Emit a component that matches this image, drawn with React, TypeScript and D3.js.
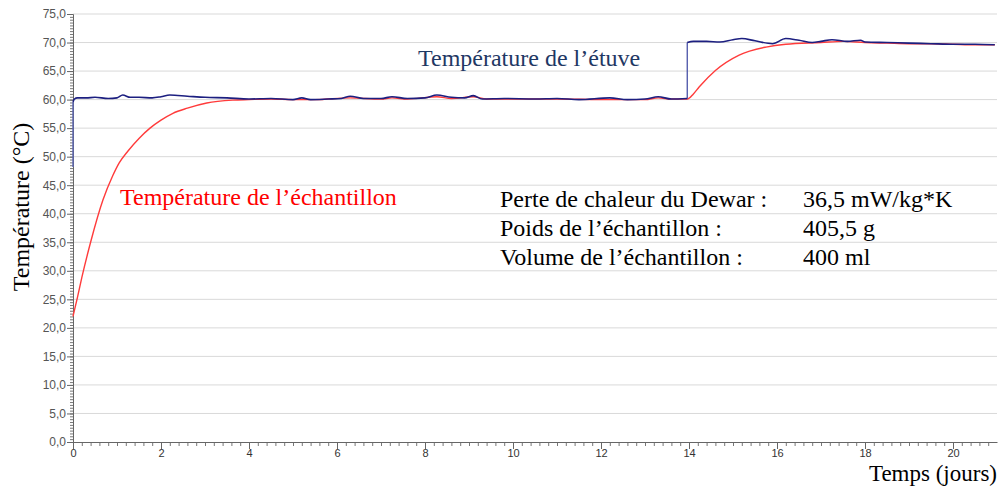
import { useEffect, useRef } from "react";
import * as d3 from "d3";

// Température de l'étuve (jours, °C)
const etuveTime = [0, 0, 0.03, 0.1, 0.3, 0.5, 0.8, 1.0, 1.13, 1.3, 1.5, 1.8, 2.0, 2.2, 2.6, 3.0, 3.5, 4.0, 4.5, 5.0, 5.2, 5.4, 5.8, 6.1, 6.3, 6.6, 7.0, 7.25, 7.6, 8.0, 8.27, 8.6, 8.9, 9.1, 9.3, 9.8, 10.5, 11.0, 11.5, 12.2, 12.6, 13.0, 13.3, 13.6, 13.96, 13.96, 14.1, 14.4, 14.7, 15.0, 15.2, 15.5, 15.9, 16.2, 16.5, 16.8, 17.0, 17.25, 17.6, 17.9, 18.0, 18.5, 19.0, 19.5, 20.0, 20.5, 20.95];
const etuveTemp = [48.2, 59.6, 60.1, 60.3, 60.3, 60.4, 60.2, 60.3, 60.8, 60.4, 60.4, 60.3, 60.5, 60.8, 60.6, 60.4, 60.3, 60.1, 60.2, 60.0, 60.3, 60.0, 60.1, 60.2, 60.6, 60.2, 60.2, 60.5, 60.2, 60.3, 60.8, 60.4, 60.3, 60.7, 60.1, 60.2, 60.1, 60.2, 60.0, 60.3, 60.0, 60.1, 60.5, 60.1, 60.2, 70.0, 70.2, 70.2, 70.1, 70.5, 70.7, 70.3, 69.8, 70.7, 70.4, 70.0, 70.2, 70.5, 70.2, 70.4, 70.1, 70.0, 69.9, 69.8, 69.7, 69.7, 69.6];

// Température de l'échantillon (jours, °C)
const echTime = [0, 0.1, 0.2, 0.4, 0.68, 0.9, 1.05, 1.25, 1.5, 1.75, 2.0, 2.27, 2.6, 3.04, 3.63, 4.0, 4.5, 5.0, 5.5, 6.3, 7.0, 7.25, 7.6, 8.27, 8.6, 9.1, 9.4, 10.0, 11.0, 12.0, 13.0, 13.3, 13.6, 13.96, 14.1, 14.23, 14.6, 15.14, 15.75, 16.2, 17.0, 17.5, 18.0, 18.5, 19.0, 19.5, 20.0, 20.5, 20.95];
const echTemp = [22.0, 25.3, 28.8, 35.0, 42.4, 46.6, 48.9, 51.0, 53.2, 55.0, 56.4, 57.6, 58.5, 59.4, 59.9, 60.0, 60.1, 60.0, 60.0, 60.3, 60.1, 60.3, 60.1, 60.5, 60.2, 60.5, 60.1, 60.1, 60.1, 60.0, 60.0, 60.3, 60.1, 60.1, 61.0, 62.2, 65.1, 67.8, 69.2, 69.7, 70.0, 70.2, 70.0, 69.9, 69.8, 69.8, 69.7, 69.6, 69.6];

const yTicks = [0, 5, 10, 15, 20, 25, 30, 35, 40, 45, 50, 55, 60, 65, 70, 75];
const xTicks = [0, 2, 4, 6, 8, 10, 12, 14, 16, 18, 20];

const infoLabels = ["Perte de chaleur du Dewar :", "Poids de l\u2019\u00e9chantillon :", "Volume de l\u2019\u00e9chantillon :"];
const infoValues = ["36,5 mW/kg*K", "405,5 g", "400 ml"];

const W = 1000;
const H = 486;
const margin = { left: 73, right: 3, top: 14, bottom: 44 };
const serif = "'Liberation Serif', 'Times New Roman', serif";
const sans = "'Liberation Sans', Arial, sans-serif";

export default function App() {
  const svgRef = useRef<SVGSVGElement>(null);

  useEffect(() => {
    if (!svgRef.current) return;
    const svg = d3.select(svgRef.current);
    svg.selectAll("*").remove();

    const x = d3.scaleLinear().domain([0, 21]).range([margin.left, W - margin.right]);
    const y = d3.scaleLinear().domain([0, 75]).range([H - margin.bottom, margin.top]);

    // grid
    svg.append("g")
      .selectAll("line")
      .data(yTicks.filter(d => d > 0))
      .enter()
      .append("line")
      .attr("x1", x(0))
      .attr("x2", x(21))
      .attr("y1", d => y(d))
      .attr("y2", d => y(d))
      .attr("stroke", "#d9d9d9")
      .attr("stroke-width", 1);

    // y axis
    const yAxis = svg.append("g").attr("transform", `translate(${x(0)},0)`);
    yAxis.call(
      d3.axisLeft(y).tickValues(d3.range(0, 75.01, 0.5)).tickSize(3).tickFormat(() => "")
    );
    yAxis.call(g => g.select(".domain").remove());
    yAxis.selectAll("line").attr("stroke", "#777");
    const yMajor = svg.append("g").attr("transform", `translate(${x(0)},0)`);
    yMajor.call(
      d3.axisLeft(y).tickValues(yTicks).tickSize(6).tickFormat(d => (d as number).toFixed(1).replace(".", ","))
    );
    yMajor.select(".domain").attr("stroke", "#666");
    yMajor.selectAll("line").attr("stroke", "#666");
    yMajor.selectAll("text")
      .attr("font-family", sans)
      .attr("font-size", 12)
      .attr("fill", "#555")
      .attr("x", -7);

    // x axis
    const xAxis = svg.append("g").attr("transform", `translate(0,${y(0)})`);
    xAxis.call(d3.axisBottom(x).tickValues(d3.range(0, 21, 0.2)).tickSize(4).tickFormat(() => ""));
    xAxis.call(g => g.select(".domain").remove());
    xAxis.selectAll("line").attr("stroke", "#777");
    const xMajor = svg.append("g").attr("transform", `translate(0,${y(0)})`);
    xMajor.call(d3.axisBottom(x).tickValues(xTicks).tickSize(7).tickSizeOuter(0));
    xMajor.select(".domain").attr("stroke", "#666");
    xMajor.selectAll("line").attr("stroke", "#666");
    xMajor.selectAll("text")
      .attr("font-family", sans)
      .attr("font-size", 11)
      .attr("fill", "#333")
      .attr("y", 7);

    const line = d3.line<[number, number]>()
      .x(d => x(d[0]))
      .y(d => y(d[1]))
      .curve(d3.curveMonotoneX);
    const lineLinear = d3.line<[number, number]>()
      .x(d => x(d[0]))
      .y(d => y(d[1]));

    const ech = echTime.map((t, i) => [t, echTemp[i]] as [number, number]);
    const etu = etuveTime.map((t, i) => [t, etuveTemp[i]] as [number, number]);

    svg.append("path")
      .attr("d", line(ech))
      .attr("fill", "none")
      .attr("stroke", "#ff3b3b")
      .attr("stroke-width", 1.4);

    // étuve: smooth segments, with the vertical steps kept straight
    const seg1 = etu.slice(1, 45);
    const seg2 = etu.slice(45);
    svg.append("path")
      .attr("d", lineLinear([etu[0], etu[1]]))
      .attr("fill", "none")
      .attr("stroke", "#5a64b4")
      .attr("stroke-width", 1.4);
    svg.append("path")
      .attr("d", lineLinear([etu[44], etu[45]]))
      .attr("fill", "none")
      .attr("stroke", "#3a44a0")
      .attr("stroke-width", 1.2);
    [seg1, seg2].forEach(s => {
      svg.append("path")
        .attr("d", line(s))
        .attr("fill", "none")
        .attr("stroke", "#1c1f80")
        .attr("stroke-width", 1.6);
    });

    // annotations
    svg.append("text")
      .attr("x", 418)
      .attr("y", 66)
      .attr("font-family", serif)
      .attr("font-size", 24)
      .attr("fill", "#1f3864")
      .text("Temp\u00e9rature de l\u2019\u00e9tuve");
    svg.append("text")
      .attr("x", 120)
      .attr("y", 205)
      .attr("font-family", serif)
      .attr("font-size", 24)
      .attr("fill", "#ff0000")
      .text("Temp\u00e9rature de l\u2019\u00e9chantillon");

    infoLabels.forEach((lab, i) => {
      svg.append("text")
        .attr("x", 500)
        .attr("y", 207 + i * 29)
        .attr("font-family", serif)
        .attr("font-size", 24)
        .attr("fill", "#000")
        .text(lab);
      svg.append("text")
        .attr("x", 803)
        .attr("y", 207 + i * 29)
        .attr("font-family", serif)
        .attr("font-size", 24)
        .attr("fill", "#000")
        .text(infoValues[i]);
    });

    // axis titles
    svg.append("text")
      .attr("x", 997)
      .attr("y", 481)
      .attr("text-anchor", "end")
      .attr("font-family", serif)
      .attr("font-size", 23)
      .attr("fill", "#000")
      .text("Temps (jours)");
    svg.append("text")
      .attr("transform", `translate(29,${207}) rotate(-90)`)
      .attr("text-anchor", "middle")
      .attr("font-family", serif)
      .attr("font-size", 24)
      .attr("fill", "#000")
      .text("Temp\u00e9rature (\u00b0C)");
  }, []);

  return (
    <div style={{ position: "fixed", left: 0, top: 0, width: W, height: H, background: "#fff" }}>
      <svg ref={svgRef} width={W} height={H} />
    </div>
  );
}
